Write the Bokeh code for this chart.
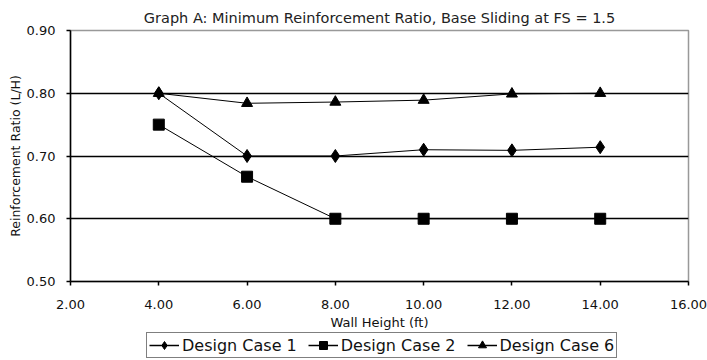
from bokeh.plotting import figure
from bokeh.layouts import column
from bokeh.models import Legend, LegendItem, NumeralTickFormatter, FixedTicker, Range1d
from bokeh.embed import file_html
from bokeh.resources import INLINE

heights = [4, 6, 8, 10, 12, 14]
case1 = [0.80, 0.70, 0.70, 0.71, 0.709, 0.714]
case2 = [0.75, 0.667, 0.60, 0.60, 0.60, 0.60]
case6 = [0.80, 0.784, 0.786, 0.789, 0.799, 0.80]
series_names = ["Design Case 1", "Design Case 2", "Design Case 6"]
x_ticks = [2, 4, 6, 8, 10, 12, 14, 16]
y_ticks = [0.5, 0.6, 0.7, 0.8, 0.9]

FONT = "DejaVu Sans"

p = figure(width=707, height=332, output_backend="svg", toolbar_location=None,
           x_range=Range1d(2, 16), y_range=Range1d(0.5, 0.9),
           min_border_left=70, min_border_right=19, min_border_top=30, min_border_bottom=51)
p.title.text = "Graph A: Minimum Reinforcement Ratio, Base Sliding at FS = 1.5"
p.title.align = "center"
p.title.text_font = FONT
p.title.text_font_size = "14.5px"
p.title.text_font_style = "normal"
p.title.text_color = "#222222"
p.title.offset = 0
p.outline_line_color = "#999999"
p.outline_line_width = 1.5
p.background_fill_color = "white"
p.border_fill_color = "white"

p.xgrid.visible = False
p.ygrid.ticker = FixedTicker(ticks=[0.6, 0.7, 0.8])
p.ygrid.grid_line_color = "black"
p.ygrid.grid_line_width = 1.3

for ax in (p.xaxis[0], p.yaxis[0]):
    ax.axis_line_color = "black"
    ax.axis_line_width = 1.5
    ax.major_tick_line_color = "black"
    ax.major_tick_line_width = 1.5
    ax.major_tick_out = 4
    ax.major_tick_in = 0
    ax.minor_tick_line_color = None
    ax.major_label_text_font = FONT
    ax.major_label_text_font_size = "13px"
    ax.major_label_text_color = "#111111"
    ax.axis_label_text_font = FONT
    ax.axis_label_text_font_size = "13px"
    ax.axis_label_text_font_style = "normal"
    ax.axis_label_text_color = "#111111"
    ax.formatter = NumeralTickFormatter(format="0.00")

p.xaxis.ticker = FixedTicker(ticks=x_ticks)
p.yaxis.ticker = FixedTicker(ticks=y_ticks)
p.xaxis.major_label_standoff = 14
p.yaxis.major_label_standoff = 11
p.xaxis.axis_label = "Wall Height (ft)"
p.yaxis.axis_label = "Reinforcement Ratio (L/H)"
p.xaxis.axis_label_standoff = 3
p.yaxis.axis_label_standoff = 1
p.yaxis.axis_label_text_font_size = "12.5px"

p.line(heights, case1, line_color="black", line_width=1)
p.scatter(heights, case1, marker="diamond", size=13, color="black")
p.line(heights, case2, line_color="black", line_width=1)
p.scatter(heights, case2, marker="square", size=11, color="black")
p.line(heights, case6, line_color="black", line_width=1)
p.scatter(heights, case6, marker="triangle", size=11, color="black")

# legend strip below the chart (frame aligned with the chart's frame)
q = figure(width=707, height=28, output_backend="svg", toolbar_location=None,
           x_range=Range1d(0, 1), y_range=Range1d(0, 1),
           min_border_left=70, min_border_right=19, min_border_top=0, min_border_bottom=0)
q.axis.visible = False
q.grid.visible = False
q.outline_line_color = None
q.background_fill_color = "white"
q.border_fill_color = "white"
markers = ["diamond", "square", "triangle"]
msizes = [13, 11, 11]
items = []
for name, mk, ms in zip(series_names, markers, msizes):
    lr = q.line([-5, -4], [-5, -4], line_color="black", line_width=1.5)
    sr = q.scatter([-5], [-5], marker=mk, size=ms, color="black")
    items.append(LegendItem(label=name, renderers=[lr, sr]))

legend = Legend(items=items, orientation="horizontal", location=(76, 2))
legend.border_line_color = "black"
legend.border_line_width = 1.5
legend.label_text_font = FONT
legend.label_text_font_size = "16px"
legend.label_text_color = "#111111"
legend.padding = 2
legend.spacing = 11
legend.margin = 0
legend.glyph_width = 30
legend.glyph_height = 20
legend.label_standoff = 3
legend.label_height = 20
legend.background_fill_alpha = 1
q.add_layout(legend, "center")

layout = column(p, q, spacing=0)
open("out.html", "w").write(file_html(layout, INLINE))
